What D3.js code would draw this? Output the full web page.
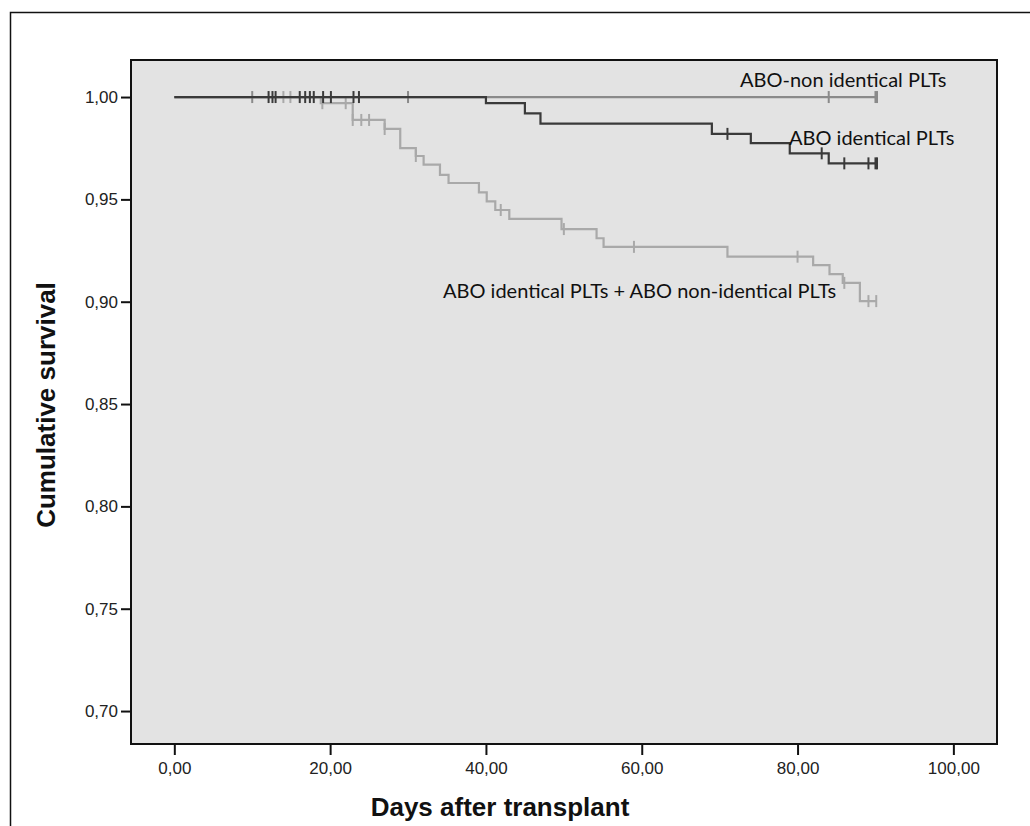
<!DOCTYPE html>
<html>
<head>
<meta charset="utf-8">
<script src="https://cdn.jsdelivr.net/npm/d3@7"></script>
<style>
  body { margin: 0; background: #fff; }
  .tick text { font-family: "Liberation Sans", Arial, sans-serif; font-size: 17px; fill: #222; }
  .axis-title { font-family: "Liberation Sans", Arial, sans-serif; font-weight: bold; font-size: 26px; fill: #111; }
  .curve-label { font-family: Lato, "Open Sans", sans-serif; font-size: 20px; fill: #111; }
</style>
</head>
<body>
<div id="chart"></div>
<script>
var svgWidth = 1030;
var svgHeight = 826;

// plot area box
var plot = { left: 131, right: 997, top: 60, bottom: 744 };

// tick values
var xTicks = [0, 20, 40, 60, 80, 100];
var yTicks = [0.70, 0.75, 0.80, 0.85, 0.90, 0.95, 1.00];

// Kaplan-Meier steps: [day, survival after the event]
var identicalSteps = [[0, 1], [40, 0.997], [45, 0.992], [47, 0.987], [69, 0.982], [74, 0.9775], [79, 0.9725], [84, 0.9676], [90, 0.9676]];
var identicalCensored = [12.1, 12.6, 13.0, 16.1, 16.8, 17.4, 17.9, 19.1, 20.1, 23.0, 23.7, 71, 83.1, 86, 89.1, 90, 90.2];

var nonIdenticalSteps = [[0, 1], [90, 1]];
var nonIdenticalCensored = [10, 30, 84, 90, 90.2];

var combinedSteps = [[0, 1], [18.8, 0.997], [22.9, 0.9888], [27, 0.9844], [29, 0.975], [31, 0.9712], [32, 0.967],
  [34.1, 0.962], [35.2, 0.958], [39.1, 0.9534], [40.1, 0.949], [41.2, 0.9448], [43, 0.9405], [49.7, 0.9355],
  [54.2, 0.931], [55.1, 0.9268], [71, 0.922], [82, 0.9179], [84.1, 0.9135], [85.8, 0.9092], [88, 0.9003], [90.1, 0.9003]];
var combinedCensored = [14.0, 14.9, 19.0, 22.0, 22.9, 24.0, 25.0, 27.0, 31.0, 41.9, 50, 59, 80, 86, 89.1, 90.1];

var seriesNames = ["ABO identical PLTs + ABO non-identical PLTs", "ABO-non identical PLTs", "ABO identical PLTs"];

var svg = d3.select("#chart")
  .append("svg")
  .attr("width", svgWidth)
  .attr("height", svgHeight);

// outer frame (runs off the page on right and bottom)
svg.append("rect")
  .attr("x", 10.5)
  .attr("y", 12.5)
  .attr("width", 1040)
  .attr("height", 840)
  .attr("fill", "none")
  .attr("stroke", "#111")
  .attr("stroke-width", 1.5);

var xScale = d3.scaleLinear()
  .domain([-5.56, 105.6])
  .range([plot.left, plot.right]);

var yScale = d3.scaleLinear()
  .domain([0.6839, 1.0181])
  .range([plot.bottom, plot.top]);

// plot background
svg.append("rect")
  .attr("x", plot.left)
  .attr("y", plot.top)
  .attr("width", plot.right - plot.left)
  .attr("height", plot.bottom - plot.top)
  .attr("fill", "#e3e3e3");

// axes
var fmt = function(d) { return d3.format(".2f")(d).replace(".", ","); };

var xAxis = svg.append("g")
  .attr("transform", `translate(0, ${plot.bottom})`)
  .call(d3.axisBottom(xScale).tickValues(xTicks).tickSize(11).tickPadding(7).tickFormat(fmt));
xAxis.select(".domain").remove();
xAxis.selectAll(".tick line").attr("stroke", "#111").attr("stroke-width", 2);

var yAxis = svg.append("g")
  .attr("transform", `translate(${plot.left}, 0)`)
  .call(d3.axisLeft(yScale).tickValues(yTicks).tickSize(10).tickPadding(3).tickFormat(fmt));
yAxis.select(".domain").remove();
yAxis.selectAll(".tick line").attr("stroke", "#111").attr("stroke-width", 2);

// curves
var line = d3.line()
  .x(d => xScale(d[0]))
  .y(d => yScale(d[1]))
  .curve(d3.curveStepAfter);

function survivalAt(steps, t) {
  var s = steps[0][1];
  steps.forEach(function(p) { if (p[0] <= t) s = p[1]; });
  return s;
}

var series = [
  { steps: combinedSteps, censored: combinedCensored, color: "#a9a9a9" },
  { steps: nonIdenticalSteps, censored: nonIdenticalCensored, color: "#8a8a8a" },
  { steps: identicalSteps, censored: identicalCensored, color: "#3a3a3a" }
];

series.forEach(function(s) {
  var g = svg.append("g");
  g.append("path")
    .datum(s.steps)
    .attr("d", line)
    .attr("fill", "none")
    .attr("stroke", s.color)
    .attr("stroke-width", 2.2);

  g.selectAll("line.censor")
    .data(s.censored)
    .enter()
    .append("line")
    .attr("class", "censor")
    .attr("x1", d => xScale(d))
    .attr("x2", d => xScale(d))
    .attr("y1", d => yScale(survivalAt(s.steps, d)) - 6)
    .attr("y2", d => yScale(survivalAt(s.steps, d)) + 6)
    .attr("stroke", s.color)
    .attr("stroke-width", 2);
});

// plot border
svg.append("rect")
  .attr("x", plot.left)
  .attr("y", plot.top)
  .attr("width", plot.right - plot.left)
  .attr("height", plot.bottom - plot.top)
  .attr("fill", "none")
  .attr("stroke", "#111")
  .attr("stroke-width", 2);

// curve labels
svg.append("text").attr("class", "curve-label")
  .attr("x", 740).attr("y", 87).text(seriesNames[1]);
svg.append("text").attr("class", "curve-label")
  .attr("x", 789).attr("y", 145).text(seriesNames[2]);
svg.append("text").attr("class", "curve-label")
  .attr("x", 443).attr("y", 298).text(seriesNames[0]);

// axis titles
svg.append("text")
  .attr("class", "axis-title")
  .attr("x", 500)
  .attr("y", 816)
  .attr("text-anchor", "middle")
  .text("Days after transplant");

svg.append("text")
  .attr("class", "axis-title")
  .attr("transform", "rotate(-90)")
  .attr("x", -405)
  .attr("y", 55)
  .attr("text-anchor", "middle")
  .text("Cumulative survival");
</script>
</body>
</html>
